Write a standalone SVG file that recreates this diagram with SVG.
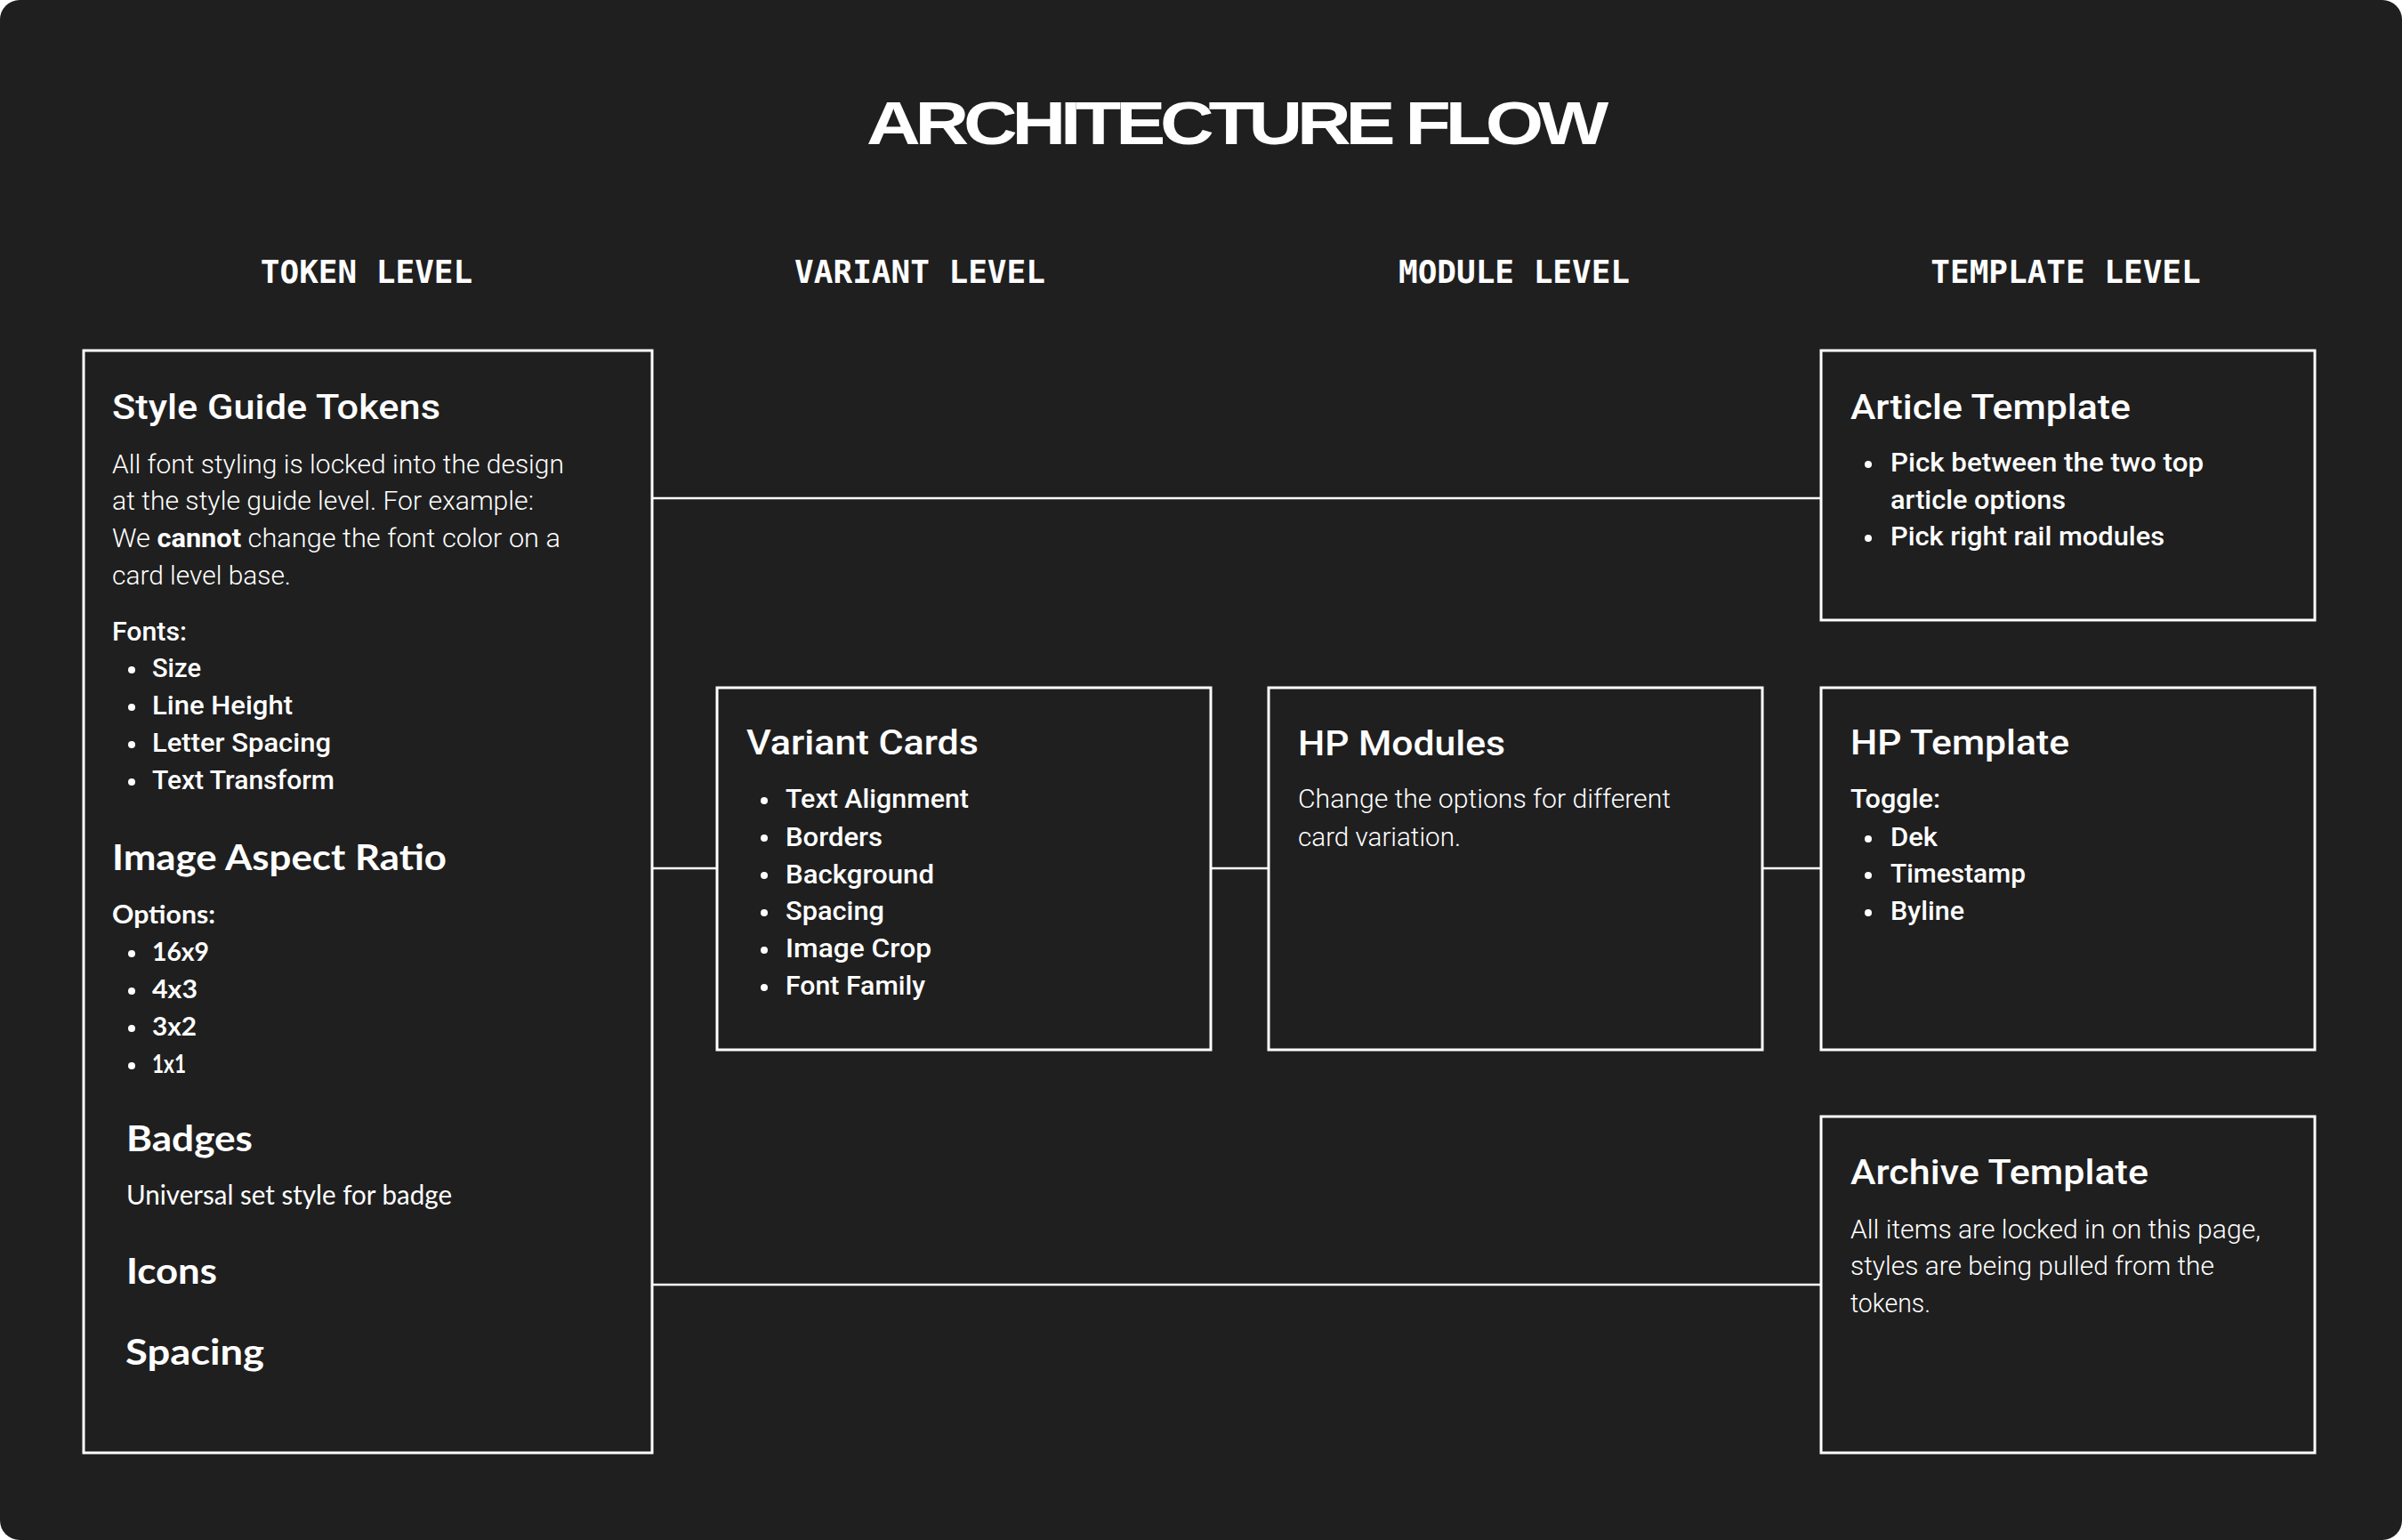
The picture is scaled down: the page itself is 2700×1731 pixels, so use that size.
<svg xmlns="http://www.w3.org/2000/svg" width="2700" height="1731" viewBox="0 0 2700 1731">
<style>
.box{fill:#1f1f1f;stroke:#ffffff;stroke-width:3}
.conn{stroke:#ffffff;stroke-width:2.5;fill:none}
.title{font-family:"Liberation Sans",Arial,sans-serif;font-weight:700;fill:#fff}
.lvl{font-family:"DejaVu Sans Mono","Liberation Mono",monospace;font-weight:700;font-size:36px;fill:#fff}
.h{font-family:Roboto,"Liberation Sans",sans-serif;font-weight:500;font-size:39px;fill:#fff}
.b{font-family:Roboto,"Liberation Sans",sans-serif;font-weight:300;font-size:29px;fill:#fff}
.m{font-family:Roboto,"Liberation Sans",sans-serif;font-weight:500;font-size:29.5px;fill:#fff}
.gh{font-family:Lato,"Liberation Sans",sans-serif;font-weight:700;font-size:41px;fill:#fff}
.gm{font-family:Lato,"Liberation Sans",sans-serif;font-weight:700;font-size:28.5px;fill:#fff}
.gb{font-family:Lato,"Liberation Sans",sans-serif;font-weight:400;font-size:30px;fill:#fff}
.dot{fill:#fff}
</style>
<rect x="0" y="0" width="2700" height="1731" fill="#ffffff"/>
<rect x="0" y="0" width="2700" height="1731" rx="22" ry="22" fill="#1f1f1f"/>
<text class="title" x="974" y="162" font-size="68" letter-spacing="-5" textLength="828" lengthAdjust="spacingAndGlyphs">ARCHITECTURE FLOW</text>
<g id="levels">
<text class="lvl" x="412" y="318" text-anchor="middle">TOKEN LEVEL</text>
<text class="lvl" x="1034" y="318" text-anchor="middle">VARIANT LEVEL</text>
<text class="lvl" x="1702" y="318" text-anchor="middle">MODULE LEVEL</text>
<text class="lvl" x="2322" y="318" text-anchor="middle">TEMPLATE LEVEL</text>
</g>
<g id="connectors">
<line class="conn" x1="733" y1="560" x2="2047" y2="560"/>
<line class="conn" x1="733" y1="976" x2="806" y2="976"/>
<line class="conn" x1="1361" y1="976" x2="1426" y2="976"/>
<line class="conn" x1="1981" y1="976" x2="2047" y2="976"/>
<line class="conn" x1="733" y1="1444" x2="2047" y2="1444"/>
</g>
<g id="token">
<rect class="box" x="94" y="394" width="639" height="1239"/>
<text class="h" x="126" y="471" textLength="369" lengthAdjust="spacingAndGlyphs">Style Guide Tokens</text>
<text class="b" x="126" y="532" textLength="508" lengthAdjust="spacingAndGlyphs">All font styling is locked into the design</text>
<text class="b" x="126" y="573" textLength="474" lengthAdjust="spacingAndGlyphs">at the style guide level. For example:</text>
<text class="b" x="126" y="615" textLength="504" lengthAdjust="spacingAndGlyphs">We <tspan font-weight="700">cannot</tspan> change the font color on a</text>
<text class="b" x="126" y="657" textLength="201" lengthAdjust="spacingAndGlyphs">card level base.</text>
<text class="m" x="126" y="720" textLength="84" lengthAdjust="spacingAndGlyphs">Fonts:</text>
<circle class="dot" cx="148" cy="753" r="4"/>
<text class="m" x="171" y="761" textLength="55" lengthAdjust="spacingAndGlyphs">Size</text>
<circle class="dot" cx="148" cy="795" r="4"/>
<text class="m" x="171" y="803" textLength="158" lengthAdjust="spacingAndGlyphs">Line Height</text>
<circle class="dot" cx="148" cy="837" r="4"/>
<text class="m" x="171" y="845" textLength="201" lengthAdjust="spacingAndGlyphs">Letter Spacing</text>
<circle class="dot" cx="148" cy="879" r="4"/>
<text class="m" x="171" y="887" textLength="205" lengthAdjust="spacingAndGlyphs">Text Transform</text>
<text class="gh" x="126" y="978" textLength="376" lengthAdjust="spacingAndGlyphs">Image Aspect Ratio</text>
<text class="gm" x="126" y="1038" textLength="116" lengthAdjust="spacingAndGlyphs">Options:</text>
<circle class="dot" cx="148" cy="1072" r="4"/>
<text class="gm" x="171" y="1080" textLength="64" lengthAdjust="spacingAndGlyphs">16x9</text>
<circle class="dot" cx="148" cy="1114" r="4"/>
<text class="gm" x="171" y="1122" textLength="51" lengthAdjust="spacingAndGlyphs">4x3</text>
<circle class="dot" cx="148" cy="1156" r="4"/>
<text class="gm" x="171" y="1164" textLength="50" lengthAdjust="spacingAndGlyphs">3x2</text>
<circle class="dot" cx="148" cy="1198" r="4"/>
<text class="gm" x="171" y="1206" textLength="38" lengthAdjust="spacingAndGlyphs">1x1</text>
<text class="gh" x="142" y="1294" textLength="142" lengthAdjust="spacingAndGlyphs">Badges</text>
<text class="gb" x="142" y="1354" textLength="366" lengthAdjust="spacingAndGlyphs">Universal set style for badge</text>
<text class="gh" x="142" y="1443" textLength="102" lengthAdjust="spacingAndGlyphs">Icons</text>
<text class="gh" x="141" y="1534" textLength="156" lengthAdjust="spacingAndGlyphs">Spacing</text>
</g>
<g id="variant">
<rect class="box" x="806" y="773" width="555" height="407"/>
<text class="h" x="839" y="848" textLength="261" lengthAdjust="spacingAndGlyphs">Variant Cards</text>
<circle class="dot" cx="859" cy="900" r="4"/>
<text class="m" x="883" y="908" textLength="206" lengthAdjust="spacingAndGlyphs">Text Alignment</text>
<circle class="dot" cx="859" cy="942" r="4"/>
<text class="m" x="883" y="951" textLength="109" lengthAdjust="spacingAndGlyphs">Borders</text>
<circle class="dot" cx="859" cy="984" r="4"/>
<text class="m" x="883" y="993" textLength="167" lengthAdjust="spacingAndGlyphs">Background</text>
<circle class="dot" cx="859" cy="1026" r="4"/>
<text class="m" x="883" y="1034" textLength="111" lengthAdjust="spacingAndGlyphs">Spacing</text>
<circle class="dot" cx="859" cy="1068" r="4"/>
<text class="m" x="883" y="1076" textLength="164" lengthAdjust="spacingAndGlyphs">Image Crop</text>
<circle class="dot" cx="859" cy="1110" r="4"/>
<text class="m" x="883" y="1118" textLength="157" lengthAdjust="spacingAndGlyphs">Font Family</text>
</g>
<g id="modules">
<rect class="box" x="1426" y="773" width="555" height="407"/>
<text class="h" x="1459" y="849" textLength="233" lengthAdjust="spacingAndGlyphs">HP Modules</text>
<text class="b" x="1459" y="908" textLength="419" lengthAdjust="spacingAndGlyphs">Change the options for different</text>
<text class="b" x="1459" y="951" textLength="183" lengthAdjust="spacingAndGlyphs">card variation.</text>
</g>
<g id="article">
<rect class="box" x="2047" y="394" width="555" height="303"/>
<text class="h" x="2080" y="471" textLength="315" lengthAdjust="spacingAndGlyphs">Article Template</text>
<circle class="dot" cx="2100" cy="522" r="4"/>
<text class="m" x="2125" y="530" textLength="352" lengthAdjust="spacingAndGlyphs">Pick between the two top</text>
<text class="m" x="2125" y="572" textLength="197" lengthAdjust="spacingAndGlyphs">article options</text>
<circle class="dot" cx="2100" cy="605" r="4"/>
<text class="m" x="2125" y="613" textLength="308" lengthAdjust="spacingAndGlyphs">Pick right rail modules</text>
</g>
<g id="hptemplate">
<rect class="box" x="2047" y="773" width="555" height="407"/>
<text class="h" x="2080" y="848" textLength="246" lengthAdjust="spacingAndGlyphs">HP Template</text>
<text class="m" x="2080" y="908" textLength="101" lengthAdjust="spacingAndGlyphs">Toggle:</text>
<circle class="dot" cx="2100" cy="943" r="4"/>
<text class="m" x="2125" y="951" textLength="53" lengthAdjust="spacingAndGlyphs">Dek</text>
<circle class="dot" cx="2100" cy="984" r="4"/>
<text class="m" x="2125" y="992" textLength="152" lengthAdjust="spacingAndGlyphs">Timestamp</text>
<circle class="dot" cx="2100" cy="1026" r="4"/>
<text class="m" x="2125" y="1034" textLength="83" lengthAdjust="spacingAndGlyphs">Byline</text>
</g>
<g id="archive">
<rect class="box" x="2047" y="1255" width="555" height="378"/>
<text class="h" x="2080" y="1331" textLength="335" lengthAdjust="spacingAndGlyphs">Archive Template</text>
<text class="b" x="2080" y="1392" textLength="461" lengthAdjust="spacingAndGlyphs">All items are locked in on this page,</text>
<text class="b" x="2080" y="1433" textLength="409" lengthAdjust="spacingAndGlyphs">styles are being pulled from the</text>
<text class="b" x="2080" y="1475" textLength="90" lengthAdjust="spacingAndGlyphs">tokens.</text>
</g>
</svg>
